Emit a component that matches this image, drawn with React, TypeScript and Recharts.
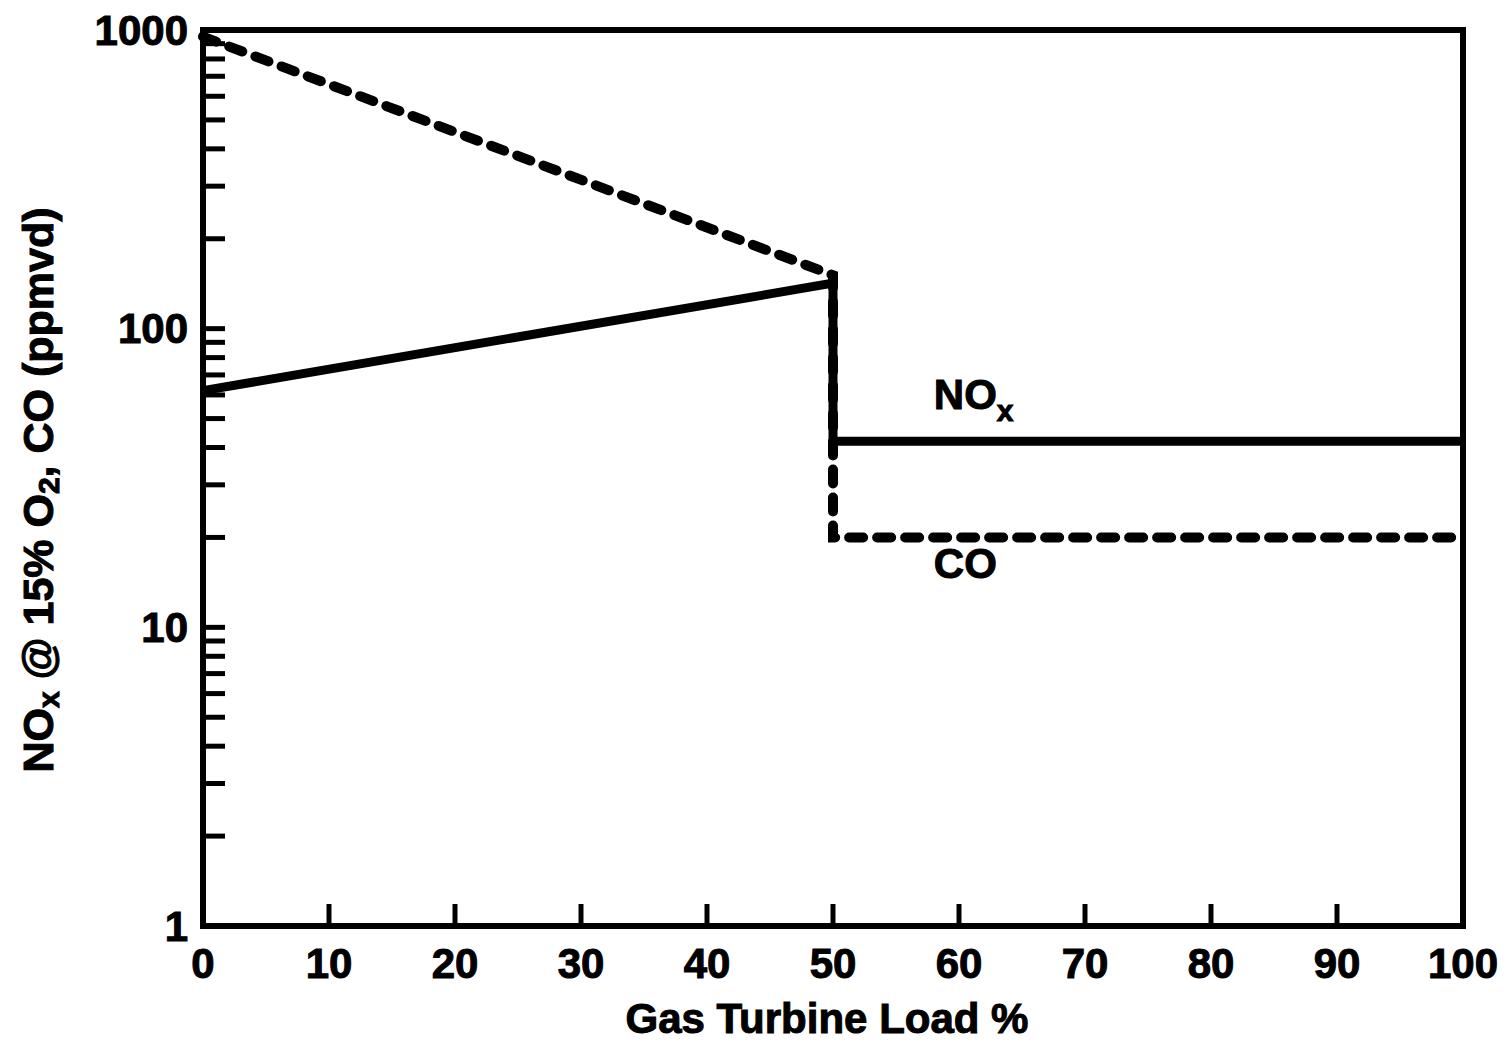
import { LineChart, Line, XAxis, YAxis, ReferenceArea, ReferenceDot, Label } from "recharts";

const FONT = "'Liberation Sans', Arial, Helvetica, sans-serif";

const loadTicks = [0, 10, 20, 30, 40, 50, 60, 70, 80, 90, 100];
const ppmMajorTicks = [1, 10, 100, 1000];
const ppmMinorTicks = [2, 3, 4, 5, 6, 7, 8, 9, 20, 30, 40, 50, 60, 70, 80, 90, 200, 300, 400, 500, 600, 700, 800, 900];

const noxLoad = [0, 50, 50, 100];
const noxPpm = [62, 142, 42, 42];
const coLoad = [0, 50, 50, 100];
const coPpm = [950, 151, 20, 20];

const noxData = noxLoad.map((load, i) => ({ load, ppm: noxPpm[i] }));
const coData = coLoad.map((load, i) => ({ load, ppm: coPpm[i] }));

const allPpmTicks = [...ppmMajorTicks, ...ppmMinorTicks].sort((a, b) => a - b);

// bold scan look: a thin outline on every text
const textStyle = {
  fontFamily: FONT,
  fontWeight: 700,
  fill: "#000",
  stroke: "#000",
  strokeWidth: 1,
};

type TickProps = { x?: number; y?: number; payload?: { value: number } };

const XTick = ({ x = 0, y = 0, payload }: TickProps) => (
  <g>
    <line x1={x} x2={x} y1={y} y2={y - 22} stroke="#000" strokeWidth={5} />
    <text x={x} y={y + 37} textAnchor="middle" dominantBaseline="central" fontSize={42} {...textStyle}>
      {payload?.value}
    </text>
  </g>
);

const YTick = ({ x = 0, y = 0, payload }: TickProps) => {
  const v = payload?.value ?? 0;
  const major = ppmMajorTicks.includes(v);
  return (
    <g>
      <line x1={x} x2={x + 22} y1={y} y2={y} stroke="#000" strokeWidth={5} />
      {major && (
        <text x={x - 15} y={y} textAnchor="end" dominantBaseline="central" fontSize={42} {...textStyle}>
          {v}
        </text>
      )}
    </g>
  );
};

type VB = { viewBox?: { x: number; y: number; width: number; height: number } };

const YTitle = ({ viewBox }: VB) => {
  if (!viewBox) return null;
  const cx = viewBox.x + 38;
  const cy = viewBox.y + viewBox.height / 2 + 12;
  return (
    <text x={cx} y={cy} transform={`rotate(-90 ${cx} ${cy})`} textAnchor="middle" dominantBaseline="central" fontSize={43} {...textStyle}>
      <tspan>NO</tspan>
      <tspan dy={10} fontSize={30}>x</tspan>
      <tspan dy={-10}> @ 15% O</tspan>
      <tspan dy={10} fontSize={30}>2</tspan>
      <tspan dy={-10}>, CO (ppmvd)</tspan>
    </text>
  );
};

const XTitle = ({ viewBox }: VB) => {
  if (!viewBox) return null;
  return (
    <text x={viewBox.x + viewBox.width / 2 - 6} y={viewBox.y + 92} textAnchor="middle" dominantBaseline="central" fontSize={42} {...textStyle}>
      Gas Turbine Load %
    </text>
  );
};

const NoxTag = ({ cx = 0, cy = 0 }: { cx?: number; cy?: number }) => (
  <text x={cx} y={cy} fontSize={42} {...textStyle}>
    <tspan>NO</tspan>
    <tspan dy={12} fontSize={30}>x</tspan>
  </text>
);

const CoTag = ({ cx = 0, cy = 0 }: { cx?: number; cy?: number }) => (
  <text x={cx} y={cy} fontSize={42} {...textStyle}>
    CO
  </text>
);

export default function App() {
  return (
    <div style={{ position: "absolute", left: 0, top: 0, background: "#fff" }}>
      <LineChart width={1507} height={1044} margin={{ top: 30, right: 44, bottom: 0, left: 0 }}>
        <XAxis
          dataKey="load"
          type="number"
          domain={[0, 100]}
          ticks={loadTicks}
          interval={0}
          height={118}
          tickSize={0}
          tickMargin={0}
          axisLine={false}
          tickLine={false}
          tick={<XTick />}
        >
          <Label content={<XTitle />} />
        </XAxis>
        <YAxis
          dataKey="ppm"
          type="number"
          scale="log"
          domain={[1, 1000]}
          allowDataOverflow
          ticks={allPpmTicks}
          interval={0}
          width={203}
          tickSize={0}
          tickMargin={0}
          axisLine={false}
          tickLine={false}
          tick={<YTick />}
        >
          <Label content={<YTitle />} />
        </YAxis>
        <ReferenceArea x1={0} x2={100} y1={1} y2={1000} fill="none" stroke="#000" strokeWidth={6} />
        <Line
          data={coData}
          dataKey="ppm"
          type="linear"
          stroke="#000"
          strokeWidth={10}
          strokeDasharray="14 14"
          strokeLinecap="round"
          dot={false}
          isAnimationActive={false}
        />
        <Line
          data={noxData}
          dataKey="ppm"
          type="linear"
          stroke="#000"
          strokeWidth={9}
          dot={false}
          isAnimationActive={false}
        />
        <ReferenceDot x={58} y={54} r={0} shape={<NoxTag />} />
        <ReferenceDot x={58} y={14.6} r={0} shape={<CoTag />} />
      </LineChart>
    </div>
  );
}
